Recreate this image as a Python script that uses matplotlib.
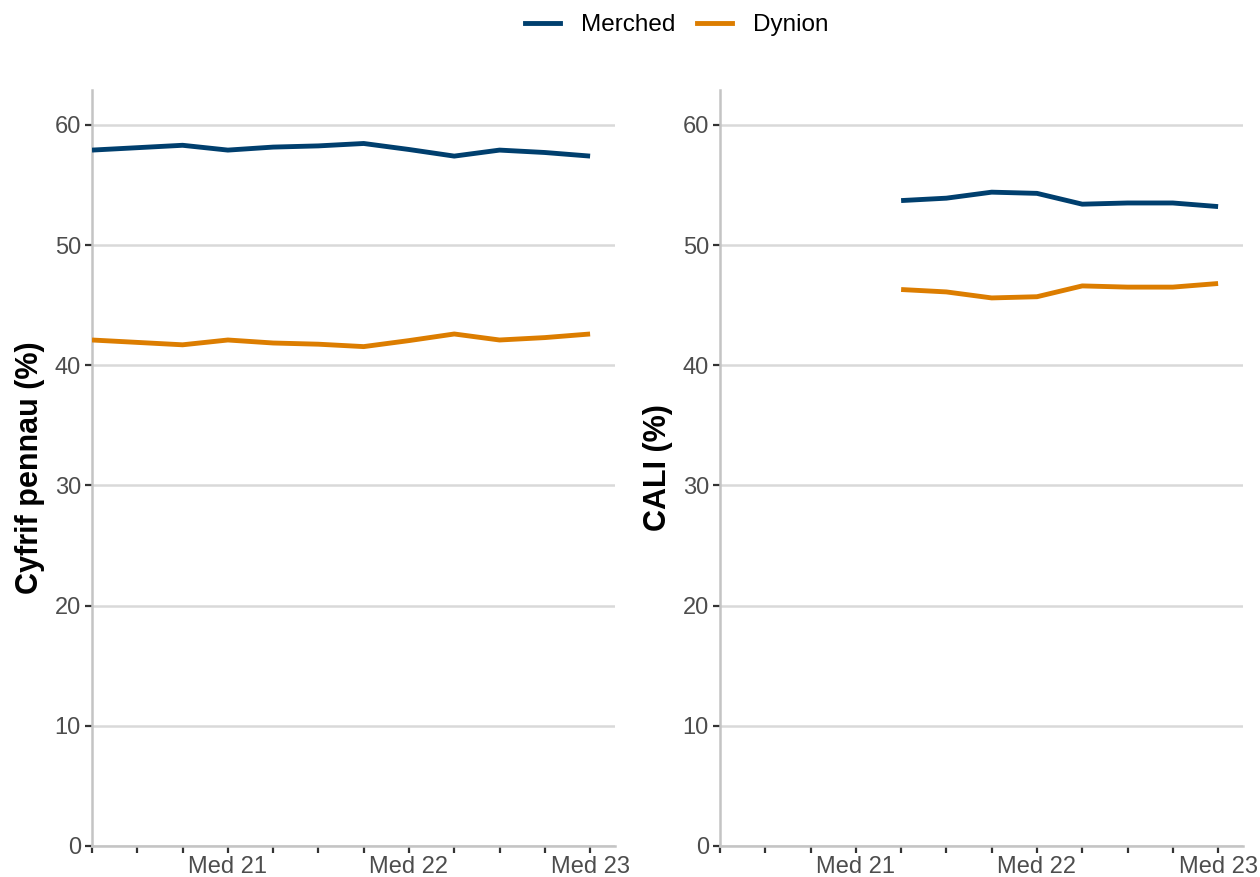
import matplotlib
matplotlib.use("Agg")
import matplotlib.pyplot as plt
from matplotlib.lines import Line2D

plt.rcParams['font.family'] = ['Liberation Sans', 'DejaVu Sans']

quarters = ["Rha 20", "Maw 21", "Meh 21", "Med 21", "Rha 21", "Maw 22",
            "Meh 22", "Med 22", "Rha 22", "Maw 23", "Meh 23", "Med 23"]
shown_labels = ["Med 21", "Med 22", "Med 23"]

# Cyfrif pennau (headcount) %
head_merched = [57.9, 58.1, 58.3, 57.9, 58.15, 58.25, 58.45, 57.95, 57.4, 57.9, 57.7, 57.4]
head_dynion = [42.1, 41.9, 41.7, 42.1, 41.85, 41.75, 41.55, 42.05, 42.6, 42.1, 42.3, 42.6]

# CALI % (starts Rha 21)
cali_quarters = quarters[4:]
cali_merched = [53.7, 53.9, 54.4, 54.3, 53.4, 53.5, 53.5, 53.2]
cali_dynion = [46.3, 46.1, 45.6, 45.7, 46.6, 46.5, 46.5, 46.8]

series_names = ["Merched", "Dynion"]
colors = {"Merched": "#003f6e", "Dynion": "#dc7d00"}

fig = plt.figure(figsize=(12.6, 8.77), dpi=100)
ax1 = fig.add_axes([92/1260, 1-846/877, (615-92)/1260, (846-90)/877])
ax2 = fig.add_axes([720/1260, 1-846/877, (1243-720)/1260, (846-90)/877])

pos = {q: i for i, q in enumerate(quarters)}

def style(ax, ylabel):
    ax.set_xlim(0, 11.55)
    ax.set_ylim(0, 62.9)
    ax.set_yticks([0, 10, 20, 30, 40, 50, 60])
    ax.set_xticks(range(len(quarters)))
    ax.set_xticklabels([q if q in shown_labels else "" for q in quarters])
    ax.yaxis.grid(True, color="#d9d9d9", linewidth=1.8, zorder=0)
    ax.set_axisbelow(True)
    for s in ["top", "right"]:
        ax.spines[s].set_visible(False)
    for s in ["left", "bottom"]:
        ax.spines[s].set_color("#c4c4c4")
        ax.spines[s].set_linewidth(1.8)
    ax.tick_params(axis="both", colors="#333333", length=5, width=1.6,
                   labelsize=17, labelcolor="#4d4d4d", pad=3)
    ax.tick_params(axis="x", pad=2)
    ax.set_ylabel(ylabel, fontsize=22, fontweight="bold", color="black", labelpad=7)

x1 = [pos[q] for q in quarters]
ax1.plot(x1, head_merched, color=colors["Merched"], lw=3.5, solid_capstyle="butt", zorder=3)
ax1.plot(x1, head_dynion, color=colors["Dynion"], lw=3.5, solid_capstyle="butt", zorder=3)
style(ax1, "Cyfrif pennau (%)")

x2 = [pos[q] for q in cali_quarters]
ax2.plot(x2, cali_merched, color=colors["Merched"], lw=3.5, solid_capstyle="butt", zorder=3)
ax2.plot(x2, cali_dynion, color=colors["Dynion"], lw=3.5, solid_capstyle="butt", zorder=3)
style(ax2, "CALI (%)")

handles = [Line2D([0], [0], color=colors[n], lw=3.5) for n in series_names]
fig.legend(handles, series_names, loc="center", bbox_to_anchor=(677/1260, 1-25/877),
           ncol=2, frameon=False, fontsize=17.5, handlelength=1.44,
           columnspacing=0.9, handletextpad=0.86)

fig.savefig("out.png", dpi=100)
